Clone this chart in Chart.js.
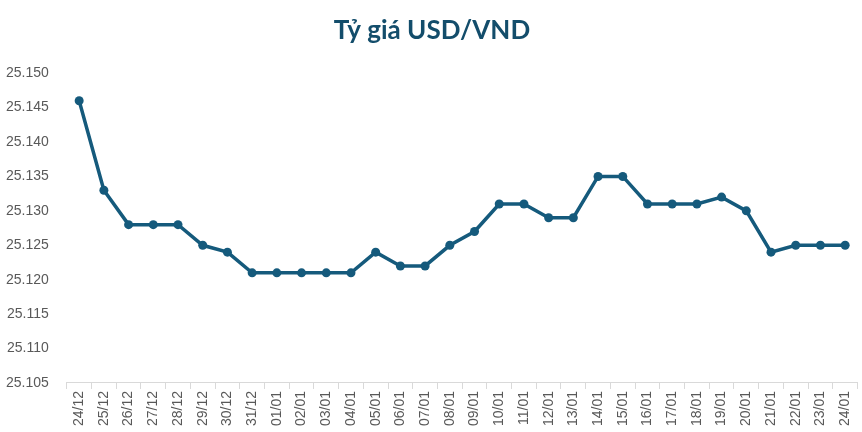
<!DOCTYPE html>
<html>
<head>
<meta charset="utf-8">
<script src="https://cdn.jsdelivr.net/npm/chart.js@4"></script>
<style>
	html, body { margin: 0; padding: 0; background: #fff; }
	#wrap { width: 862px; height: 432px; }
</style>
</head>
<body>
<div id="wrap"><canvas id="rateChart"></canvas></div>
<script>
	'use strict';

	// ngay giao dich
	const days = ['24/12', '25/12', '26/12', '27/12', '28/12', '29/12', '30/12', '31/12',
		'01/01', '02/01', '03/01', '04/01', '05/01', '06/01', '07/01', '08/01',
		'09/01', '10/01', '11/01', '12/01', '13/01', '14/01', '15/01', '16/01',
		'17/01', '18/01', '19/01', '20/01', '21/01', '22/01', '23/01', '24/01'];

	// ty gia trung tam (nghin dong)
	const rates = [25.146, 25.133, 25.128, 25.128, 25.128, 25.125, 25.124, 25.121,
		25.121, 25.121, 25.121, 25.121, 25.124, 25.122, 25.122, 25.125,
		25.127, 25.131, 25.131, 25.129, 25.129, 25.135, 25.135, 25.131,
		25.131, 25.131, 25.132, 25.130, 25.124, 25.125, 25.125, 25.125];

	const yMin = 25.105;
	const yMax = 25.150;
	const yStep = 0.005;

	const lineColor = '#155a7c';
	const yLabelGap = 18;

	let ctx = document.getElementById('rateChart').getContext('2d');

	let rateChart = new Chart(ctx, {
		type: 'line',
		data: {
			labels: days,
			datasets: [{
				label: 'USD/VND',
				data: rates,
				borderColor: lineColor,
				backgroundColor: lineColor,
				borderWidth: 3.5,
				pointRadius: 4.5,
				pointBackgroundColor: lineColor,
				pointBorderWidth: 0,
				tension: 0
			}]
		},
		options: {
			responsive: true,
			maintainAspectRatio: false,
			animation: false,
			layout: {
				padding: { left: 6, right: 4, top: 8, bottom: 4 }
			},
			plugins: {
				legend: { display: false },
				tooltip: { enabled: false },
				title: {
					display: true,
					text: 'Tỷ giá USD/VND',
					color: '#134d6b',
					font: { family: 'Lato', size: 26, weight: 'bold' },
					padding: { top: 7, bottom: 27 }
				}
			},
			scales: {
				x: {
					offset: true,
					// nhan xoay 90 do khong can chua cho ben trai
					afterFit: function (scale) {
						scale.paddingLeft = 0;
						scale.paddingRight = 0;
					},
					grid: {
						offset: true,
						drawOnChartArea: false,
						drawTicks: true,
						tickLength: 6,
						color: '#d9d9d9'
					},
					border: { color: '#d9d9d9', width: 1 },
					ticks: {
						color: '#595959',
						font: { family: 'Liberation Sans', size: 14 },
						minRotation: 90,
						maxRotation: 90,
						autoSkip: false,
						padding: 2
					}
				},
				y: {
					min: yMin,
					max: yMax,
					// chart.js tinh padding hai lan, bo phan thua ben trai
					afterFit: function (scale) {
						scale.width -= yLabelGap;
					},
					grid: { display: false, drawTicks: false },
					border: { display: false },
					ticks: {
						stepSize: yStep,
						color: '#595959',
						font: { family: 'Liberation Sans', size: 14 },
						padding: yLabelGap,
						callback: function (v) { return v.toFixed(3); }
					}
				}
			}
		}
	});
</script>
</body>
</html>
